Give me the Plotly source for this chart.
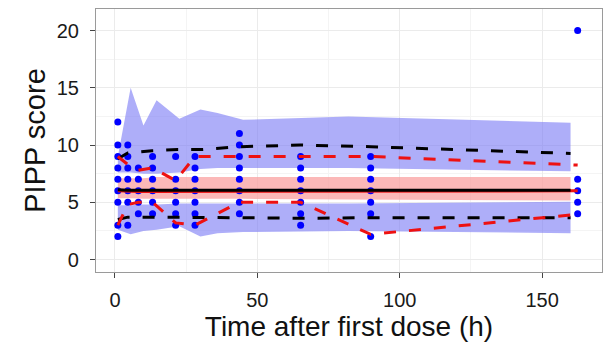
import plotly.graph_objects as go

# ---- observed data (time after first dose, PIPP score) ----
obs_t = [1]*9 + [4.5]*7 + [8.2]*5 + [13.2]*6 + [21.3]*6 + [28.1]*7 + [43.7]*8 + [65.2]*7 + [89.8]*7 + [162.5]*5
obs_y = ([2, 3, 5, 6, 7, 8, 9, 10, 12] +
         [3, 5, 6, 7, 8, 9, 10] +
         [4, 5, 6, 7, 8] +
         [4, 5, 6, 7, 8, 9] +
         [3, 4, 5, 6, 7, 9] +
         [3, 4, 5, 6, 7, 8, 9] +
         [4, 5, 6, 7, 8, 9, 10, 11] +
         [3, 4, 5, 6, 7, 8, 9] +
         [2, 4, 5, 6, 7, 8, 9] +
         [4, 5, 6, 7, 20])

# ---- simulated prediction intervals (bands) ----
band_t = [1, 5.5, 10, 14.6, 22.6, 30, 36, 45, 82, 160]
up_hi = [9.0, 15.0, 11.7, 13.9, 12.3, 13.1, 12.8, 12.2, 12.5, 11.95]
up_lo = [7.6, 7.6, 7.5, 7.5, 7.6, 7.9, 8.0, 8.0, 8.0, 7.7]
med_hi = [7.1, 7.1, 7.1, 7.2, 7.2, 7.2, 7.2, 7.2, 7.2, 7.2]
med_lo = [5.35, 5.35, 5.3, 5.3, 5.3, 5.3, 5.3, 5.3, 5.25, 5.15]
lo_hi = [4.75, 4.75, 4.8, 4.8, 4.9, 4.9, 4.9, 4.9, 4.9, 5.05]
lo_lo = [2.6, 2.2, 2.5, 2.6, 2.9, 2.0, 2.3, 2.4, 2.5, 2.3]

# ---- simulated percentile medians (black) ----
sim_t = [1, 4.5, 13, 22, 30, 44, 65, 90, 160]
sim_p95 = [8.8, 9.3, 9.5, 9.6, 9.6, 9.85, 10.0, 9.85, 9.27]
sim_p50 = [6.1, 6.05, 6.05, 6.05, 6.05, 6.05, 6.05, 6.05, 6.05]
sim_p05 = [3.5, 3.7, 3.7, 3.7, 3.65, 3.65, 3.6, 3.65, 3.65]

# ---- observed percentiles (red) ----
obsp_t = [1, 4.5, 8.2, 13.2, 21.3, 28.1, 43.7, 65.2, 89.8, 162.5]
obs_p95 = [9.0, 8.3, 7.8, 8.0, 6.9, 9.0, 9.0, 9.0, 9.0, 8.25]
obs_p50 = [6.0, 5.95, 5.95, 5.95, 5.95, 5.95, 5.95, 5.95, 5.95, 6.0]
obs_p05 = [3.0, 4.8, 5.0, 5.0, 3.2, 3.0, 5.0, 5.0, 2.2, 3.95]

x_ticks = [0, 50, 100, 150]
y_ticks = [0, 5, 10, 15, 20]

BLUE_FILL = "rgba(120,120,245,0.6)"
PINK_FILL = "rgba(250,160,160,0.75)"

fig = go.Figure()

def band(lo, hi, color):
    fig.add_trace(go.Scatter(x=band_t + band_t[::-1], y=hi + lo[::-1],
                             fill="toself", fillcolor=color, mode="none",
                             hoverinfo="skip", showlegend=False))

band(up_lo, up_hi, BLUE_FILL)
band(lo_lo, lo_hi, BLUE_FILL)
band(med_lo, med_hi, PINK_FILL)

fig.add_trace(go.Scatter(x=obs_t, y=obs_y, mode="markers",
                         marker=dict(color="#0000ff", size=7), showlegend=False))

dash = "12px,13px"
fig.add_trace(go.Scatter(x=sim_t, y=sim_p95, mode="lines",
                         line=dict(color="black", width=3, dash=dash), showlegend=False))
fig.add_trace(go.Scatter(x=sim_t, y=sim_p05, mode="lines",
                         line=dict(color="black", width=3, dash=dash), showlegend=False))
fig.add_trace(go.Scatter(x=obsp_t, y=obs_p95, mode="lines",
                         line=dict(color="#ee1111", width=3, dash=dash), showlegend=False))
fig.add_trace(go.Scatter(x=obsp_t, y=obs_p05, mode="lines",
                         line=dict(color="#ee1111", width=3, dash=dash), showlegend=False))
fig.add_trace(go.Scatter(x=obsp_t, y=obs_p50, mode="lines",
                         line=dict(color="#ee1111", width=3), showlegend=False))
fig.add_trace(go.Scatter(x=sim_t, y=sim_p50, mode="lines",
                         line=dict(color="black", width=3), showlegend=False))

font = "Liberation Sans, Arial, sans-serif"
axis_common = dict(
    automargin=False,
    showgrid=True, gridcolor="#ebebeb", gridwidth=1,
    zeroline=False, showline=True, linecolor="#9a9a9a", linewidth=1.2, mirror=True,
    ticks="outside", ticklen=5, tickwidth=1.2, tickcolor="#444",
    tickfont=dict(family=font, size=20, color="#1a1a1a"),
)

fig.update_layout(
    width=600, height=334,
    margin=dict(l=88, r=6, t=1, b=70),
    paper_bgcolor="white", plot_bgcolor="white",
    font=dict(family=font, color="#111"),
    xaxis=dict(range=[-6.67, 171.05], tickvals=x_ticks, ticklabelstandoff=5,
               title=dict(text="Time after first dose (h)", font=dict(size=28, color="#111"), standoff=8),
               **axis_common),
    yaxis=dict(range=[-1.09, 21.88], tickvals=y_ticks, ticklabelstandoff=7,
               title=dict(text="PIPP score", font=dict(size=29, color="#111"), standoff=2),
               **axis_common),
)
fig.update_xaxes(minor=dict(tickvals=[25, 75, 125], showgrid=True, gridcolor="#f4f4f4", ticks=""))
fig.update_yaxes(minor=dict(tickvals=[2.5, 7.5, 12.5, 17.5], showgrid=True, gridcolor="#f4f4f4", ticks=""))

fig.write_html("out.html")
